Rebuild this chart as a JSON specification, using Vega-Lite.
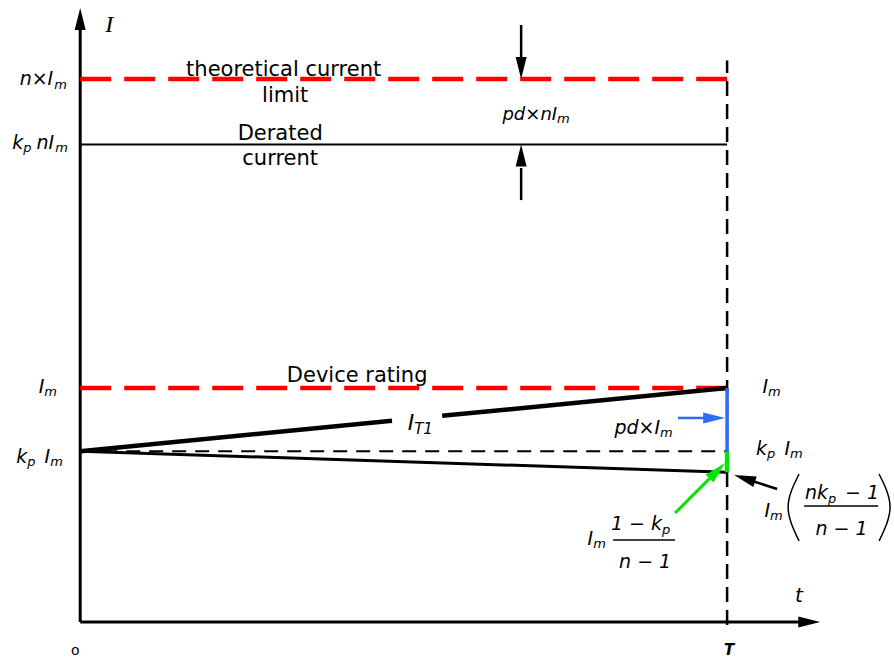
{
  "$schema": "https://vega.github.io/schema/vega-lite/v6.json",
  "width": 894,
  "height": 659,
  "padding": 0,
  "autosize": {"type": "none"},
  "background": "white",
  "config": {"view": {"stroke": null}},
  "datasets": {
    "segs": [
      {"kind": "T", "t": 1, "I": -0.013, "t2": 1, "I2": 2.40},
      {"kind": "axis", "t": 0, "I": 0, "t2": 0, "I2": 2.53},
      {"kind": "axis", "t": 0, "I": 0, "t2": 1.113, "I2": 0},
      {"kind": "red", "t": 0, "I": 2.32, "t2": 1, "I2": 2.32},
      {"kind": "red", "t": 0, "I": 1, "t2": 1, "I2": 1},
      {"kind": "derated", "t": 0, "I": 2.04, "t2": 1, "I2": 2.04},
      {"kind": "kp", "t": 0, "I": 0.73, "t2": 1, "I2": 0.73},
      {"kind": "it1", "t": 0, "I": 0.73, "t2": 0.482, "I2": 0.8602},
      {"kind": "it1", "t": 0.5595, "I": 0.8811, "t2": 1, "I2": 1},
      {"kind": "lower", "t": 0, "I": 0.73, "t2": 1, "I2": 0.64},
      {"kind": "blueBar", "t": 1, "I": 0.73, "t2": 1, "I2": 1},
      {"kind": "greenBar", "t": 1, "I": 0.64, "t2": 1, "I2": 0.73},
      {"kind": "blueShaft", "t": 0.924, "I": 0.872, "t2": 0.966, "I2": 0.872},
      {"kind": "greenShaft", "t": 0.9196, "I": 0.4658, "t2": 0.9728, "I2": 0.6128},
      {"kind": "shaft", "t": 0.6816, "I": 2.551, "t2": 0.6816, "I2": 2.41},
      {"kind": "shaft", "t": 0.6816, "I": 1.803, "t2": 0.6816, "I2": 1.94},
      {"kind": "shaft", "t": 1.0773, "I": 0.5684, "t2": 1.0402, "I2": 0.6017},
      {"kind": "fracBar", "t": 1.119, "I": 0.4957, "t2": 1.2334, "I2": 0.4957},
      {"kind": "fracBar", "t": 0.8238, "I": 0.3504, "t2": 0.9196, "I2": 0.3504}
    ],
    "heads": [
      {"kind": "black", "t": 0, "I": 2.624, "heading": 0},
      {"kind": "black", "t": 1.144, "I": 0, "heading": 90},
      {"kind": "black", "t": 0.6816, "I": 2.32, "heading": 180},
      {"kind": "black", "t": 0.6816, "I": 2.04, "heading": 0},
      {"kind": "black", "t": 1.0108, "I": 0.6282, "heading": 288},
      {"kind": "blue", "t": 0.997, "I": 0.872, "heading": 90},
      {"kind": "green", "t": 0.9969, "I": 0.6795, "heading": 45}
    ],
    "parens": [
      {"id": "left", "seq": 1, "t": 1.1113, "I": 0.6325},
      {"id": "left", "seq": 2, "t": 1.0943, "I": 0.4915},
      {"id": "left", "seq": 3, "t": 1.1113, "I": 0.3462},
      {"id": "right", "seq": 1, "t": 1.2349, "I": 0.6325},
      {"id": "right", "seq": 2, "t": 1.2519, "I": 0.4915},
      {"id": "right", "seq": 3, "t": 1.2349, "I": 0.3462}
    ],
    "labels": [
      {"style": "word", "text": "theoretical current", "t": 0.3145, "I": 2.333},
      {"style": "word", "text": "limit", "t": 0.3168, "I": 2.222},
      {"style": "word", "text": "Derated", "t": 0.3091, "I": 2.06},
      {"style": "word", "text": "current", "t": 0.3091, "I": 1.953},
      {"style": "word", "text": "Device rating", "t": 0.4281, "I": 1.0256},

      {"style": "mathR", "text": "n×I", "t": -0.0417, "I": 2.295},
      {"style": "mathR", "text": "k", "t": -0.0881, "I": 2.0214},
      {"style": "mathR", "text": "nI", "t": -0.0402, "I": 2.0214},
      {"style": "mathR", "text": "I", "t": -0.0556, "I": 0.9786},
      {"style": "mathR", "text": "k", "t": -0.0819, "I": 0.6795},
      {"style": "mathR", "text": "I", "t": -0.0464, "I": 0.6795},
      {"style": "mathR", "text": "I", "t": 1.0634, "I": 0.9786},
      {"style": "mathR", "text": "k", "t": 1.0618, "I": 0.7137},
      {"style": "mathR", "text": "I", "t": 1.0974, "I": 0.7137},
      {"style": "mathR", "text": "pd×I", "t": 0.8964, "I": 0.8034},
      {"style": "mathR", "text": "I", "t": 1.0665, "I": 0.4487},
      {"style": "mathR", "text": "nk", "t": 1.1561, "I": 0.5256},
      {"style": "mathR", "text": "I", "t": 0.7929, "I": 0.3291},
      {"style": "mathR", "text": "1 − k", "t": 0.8995, "I": 0.3932},
      {"style": "mathIT", "text": "I", "t": 0.5162, "I": 0.8205},
      {"style": "mathL", "text": "− 1", "t": 1.1824, "I": 0.5256},
      {"style": "mathC", "text": "n − 1", "t": 1.177, "I": 0.3718},
      {"style": "mathC", "text": "n − 1", "t": 0.8733, "I": 0.2308},
      {"style": "pdn", "text": "pd×nI", "t": 0.7372, "I": 2.1453},

      {"style": "sub", "text": "m", "t": -0.0402, "I": 2.2778},
      {"style": "sub", "text": "p", "t": -0.0881, "I": 2.0085},
      {"style": "sub", "text": "m", "t": -0.0386, "I": 2.0085},
      {"style": "sub", "text": "m", "t": -0.0556, "I": 0.9658},
      {"style": "sub", "text": "p", "t": -0.0819, "I": 0.6667},
      {"style": "sub", "text": "m", "t": -0.0464, "I": 0.6667},
      {"style": "sub", "text": "m", "t": 1.0634, "I": 0.9658},
      {"style": "sub", "text": "p", "t": 1.0618, "I": 0.7009},
      {"style": "sub", "text": "m", "t": 1.0974, "I": 0.7009},
      {"style": "sub", "text": "m", "t": 0.8964, "I": 0.7906},
      {"style": "sub", "text": "m", "t": 0.7372, "I": 2.1325},
      {"style": "sub", "text": "m", "t": 1.0665, "I": 0.4359},
      {"style": "sub", "text": "p", "t": 1.1561, "I": 0.5085},
      {"style": "sub", "text": "m", "t": 0.7929, "I": 0.3162},
      {"style": "sub", "text": "p", "t": 0.8995, "I": 0.3761},
      {"style": "subT", "text": "T1", "t": 0.5162, "I": 0.8034},

      {"style": "axisI", "text": "I", "t": 0.0386, "I": 2.5214},
      {"style": "axisT", "text": "t", "t": 1.1051, "I": 0.0855},
      {"style": "origin", "text": "o", "t": -0.0077, "I": -0.141},
      {"style": "period", "text": "T", "t": 1.0031, "I": -0.141}
    ]
  },
  "encoding": {
    "x": {"field": "t", "type": "quantitative", "scale": {"domain": [-0.124, 1.258], "nice": false, "zero": false}, "axis": null},
    "y": {"field": "I", "type": "quantitative", "scale": {"domain": [-0.158, 2.658], "nice": false, "zero": false}, "axis": null}
  },
  "layer": [
    {
      "data": {"name": "segs"},
      "transform": [{"filter": "datum.kind === 'T'"}],
      "mark": {"type": "rule", "color": "black", "strokeWidth": 2.5, "strokeDash": [15, 8]},
      "encoding": {"x2": {"field": "t2"}, "y2": {"field": "I2"}}
    },
    {
      "data": {"name": "segs"},
      "transform": [{"filter": "datum.kind === 'axis'"}],
      "mark": {"type": "rule", "color": "black", "strokeWidth": 3},
      "encoding": {"x2": {"field": "t2"}, "y2": {"field": "I2"}}
    },
    {
      "data": {"name": "segs"},
      "transform": [{"filter": "datum.kind === 'red'"}],
      "mark": {"type": "rule", "color": "#ff0000", "strokeWidth": 4.5, "strokeDash": [31, 13]},
      "encoding": {"x2": {"field": "t2"}, "y2": {"field": "I2"}}
    },
    {
      "data": {"name": "segs"},
      "transform": [{"filter": "datum.kind === 'derated'"}],
      "mark": {"type": "rule", "color": "black", "strokeWidth": 2},
      "encoding": {"x2": {"field": "t2"}, "y2": {"field": "I2"}}
    },
    {
      "data": {"name": "segs"},
      "transform": [{"filter": "datum.kind === 'kp'"}],
      "mark": {"type": "rule", "color": "black", "strokeWidth": 2, "strokeDash": [14, 9]},
      "encoding": {"x2": {"field": "t2"}, "y2": {"field": "I2"}}
    },
    {
      "data": {"name": "segs"},
      "transform": [{"filter": "datum.kind === 'it1'"}],
      "mark": {"type": "rule", "color": "black", "strokeWidth": 4.5},
      "encoding": {"x2": {"field": "t2"}, "y2": {"field": "I2"}}
    },
    {
      "data": {"name": "segs"},
      "transform": [{"filter": "datum.kind === 'lower'"}],
      "mark": {"type": "rule", "color": "black", "strokeWidth": 3},
      "encoding": {"x2": {"field": "t2"}, "y2": {"field": "I2"}}
    },
    {
      "data": {"name": "segs"},
      "transform": [{"filter": "datum.kind === 'blueBar'"}],
      "mark": {"type": "rule", "color": "#2f6cf5", "strokeWidth": 3.5},
      "encoding": {"x2": {"field": "t2"}, "y2": {"field": "I2"}}
    },
    {
      "data": {"name": "segs"},
      "transform": [{"filter": "datum.kind === 'blueShaft'"}],
      "mark": {"type": "rule", "color": "#2f6cf5", "strokeWidth": 2.5},
      "encoding": {"x2": {"field": "t2"}, "y2": {"field": "I2"}}
    },
    {
      "data": {"name": "segs"},
      "transform": [{"filter": "datum.kind === 'greenBar'"}],
      "mark": {"type": "rule", "color": "#00e600", "strokeWidth": 4.5},
      "encoding": {"x2": {"field": "t2"}, "y2": {"field": "I2"}}
    },
    {
      "data": {"name": "segs"},
      "transform": [{"filter": "datum.kind === 'greenShaft'"}],
      "mark": {"type": "rule", "color": "#00e600", "strokeWidth": 3},
      "encoding": {"x2": {"field": "t2"}, "y2": {"field": "I2"}}
    },
    {
      "data": {"name": "segs"},
      "transform": [{"filter": "datum.kind === 'shaft'"}],
      "mark": {"type": "rule", "color": "black", "strokeWidth": 2.5},
      "encoding": {"x2": {"field": "t2"}, "y2": {"field": "I2"}}
    },
    {
      "data": {"name": "segs"},
      "transform": [{"filter": "datum.kind === 'fracBar'"}],
      "mark": {"type": "rule", "color": "black", "strokeWidth": 1.3},
      "encoding": {"x2": {"field": "t2"}, "y2": {"field": "I2"}}
    },
    {
      "data": {"name": "heads"},
      "transform": [{"filter": "datum.kind === 'black'"}],
      "mark": {"type": "point", "shape": "M0,0L0.5,2L-0.5,2Z", "filled": true, "color": "black", "size": 484, "opacity": 1},
      "encoding": {"angle": {"field": "heading", "type": "quantitative", "scale": null}}
    },
    {
      "data": {"name": "heads"},
      "transform": [{"filter": "datum.kind === 'blue'"}],
      "mark": {"type": "point", "shape": "M0,0L0.5,2L-0.5,2Z", "filled": true, "color": "#2f6cf5", "size": 484, "opacity": 1},
      "encoding": {"angle": {"field": "heading", "type": "quantitative", "scale": null}}
    },
    {
      "data": {"name": "heads"},
      "transform": [{"filter": "datum.kind === 'green'"}],
      "mark": {"type": "point", "shape": "M0,0L0.5,2L-0.5,2Z", "filled": true, "color": "#00e600", "size": 484, "opacity": 1},
      "encoding": {"angle": {"field": "heading", "type": "quantitative", "scale": null}}
    },
    {
      "data": {"name": "parens"},
      "mark": {"type": "line", "color": "black", "strokeWidth": 1.5, "interpolate": "natural"},
      "encoding": {"detail": {"field": "id"}, "order": {"field": "seq", "type": "quantitative"}}
    },
    {
      "data": {"name": "labels"},
      "transform": [{"filter": "datum.style === 'word'"}],
      "mark": {"type": "text", "font": "DejaVu Sans", "fontSize": 21, "align": "center", "baseline": "alphabetic", "color": "black"},
      "encoding": {"text": {"field": "text"}}
    },
    {
      "data": {"name": "labels"},
      "transform": [{"filter": "datum.style === 'mathR'"}],
      "mark": {"type": "text", "font": "DejaVu Sans", "fontStyle": "italic", "fontSize": 19, "align": "right", "baseline": "alphabetic", "color": "black"},
      "encoding": {"text": {"field": "text"}}
    },
    {
      "data": {"name": "labels"},
      "transform": [{"filter": "datum.style === 'mathIT'"}],
      "mark": {"type": "text", "font": "DejaVu Sans", "fontStyle": "italic", "fontSize": 22, "align": "right", "baseline": "alphabetic", "color": "black"},
      "encoding": {"text": {"field": "text"}}
    },
    {
      "data": {"name": "labels"},
      "transform": [{"filter": "datum.style === 'mathL'"}],
      "mark": {"type": "text", "font": "DejaVu Sans", "fontStyle": "italic", "fontSize": 19, "align": "left", "baseline": "alphabetic", "color": "black"},
      "encoding": {"text": {"field": "text"}}
    },
    {
      "data": {"name": "labels"},
      "transform": [{"filter": "datum.style === 'mathC'"}],
      "mark": {"type": "text", "font": "DejaVu Sans", "fontStyle": "italic", "fontSize": 19, "align": "center", "baseline": "alphabetic", "color": "black"},
      "encoding": {"text": {"field": "text"}}
    },
    {
      "data": {"name": "labels"},
      "transform": [{"filter": "datum.style === 'pdn'"}],
      "mark": {"type": "text", "font": "DejaVu Sans", "fontStyle": "italic", "fontSize": 18, "align": "right", "baseline": "alphabetic", "color": "black"},
      "encoding": {"text": {"field": "text"}}
    },
    {
      "data": {"name": "labels"},
      "transform": [{"filter": "datum.style === 'sub'"}],
      "mark": {"type": "text", "font": "DejaVu Sans", "fontStyle": "italic", "fontSize": 13, "align": "left", "baseline": "alphabetic", "color": "black"},
      "encoding": {"text": {"field": "text"}}
    },
    {
      "data": {"name": "labels"},
      "transform": [{"filter": "datum.style === 'subT'"}],
      "mark": {"type": "text", "font": "DejaVu Sans", "fontStyle": "italic", "fontSize": 15, "align": "left", "baseline": "alphabetic", "color": "black"},
      "encoding": {"text": {"field": "text"}}
    },
    {
      "data": {"name": "labels"},
      "transform": [{"filter": "datum.style === 'axisI'"}],
      "mark": {"type": "text", "font": "Liberation Serif", "fontStyle": "italic", "fontSize": 24, "align": "left", "baseline": "alphabetic", "color": "black"},
      "encoding": {"text": {"field": "text"}}
    },
    {
      "data": {"name": "labels"},
      "transform": [{"filter": "datum.style === 'axisT'"}],
      "mark": {"type": "text", "font": "DejaVu Sans", "fontStyle": "italic", "fontSize": 20, "align": "left", "baseline": "alphabetic", "color": "black"},
      "encoding": {"text": {"field": "text"}}
    },
    {
      "data": {"name": "labels"},
      "transform": [{"filter": "datum.style === 'origin'"}],
      "mark": {"type": "text", "font": "DejaVu Sans", "fontSize": 14, "align": "center", "baseline": "alphabetic", "color": "black"},
      "encoding": {"text": {"field": "text"}}
    },
    {
      "data": {"name": "labels"},
      "transform": [{"filter": "datum.style === 'period'"}],
      "mark": {"type": "text", "font": "DejaVu Sans", "fontStyle": "italic", "fontWeight": "bold", "fontSize": 15, "align": "center", "baseline": "alphabetic", "color": "black"},
      "encoding": {"text": {"field": "text"}}
    }
  ]
}
